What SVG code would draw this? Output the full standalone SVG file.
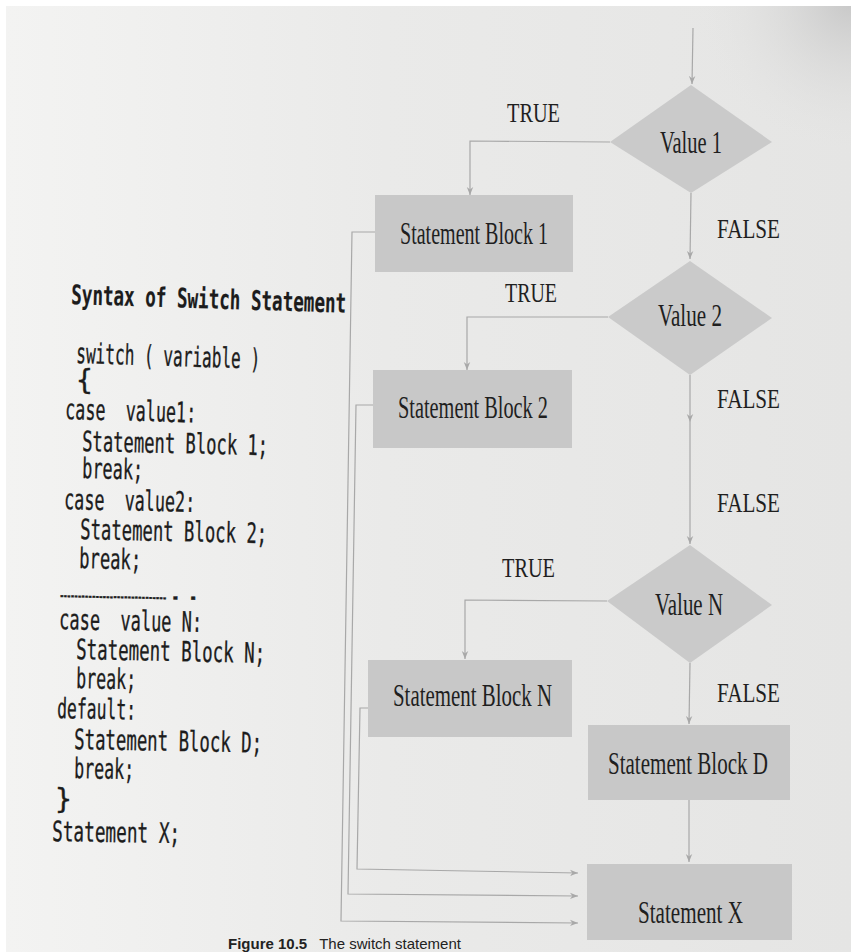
<svg xmlns="http://www.w3.org/2000/svg" width="851" height="952" viewBox="0 0 851 952">
  <defs>
    <linearGradient id="paper" x1="0" y1="0" x2="1" y2="0">
      <stop offset="0" stop-color="#f3f3f2"/>
      <stop offset="0.45" stop-color="#eaeae9"/>
      <stop offset="1" stop-color="#e5e5e4"/>
    </linearGradient>
    <radialGradient id="binding" cx="851" cy="0" r="160" gradientUnits="userSpaceOnUse">
      <stop offset="0" stop-color="#c4c4c4" stop-opacity="0.9"/>
      <stop offset="1" stop-color="#e7e7e6" stop-opacity="0"/>
    </radialGradient>
    <marker id="arrow" viewBox="0 0 10 10" refX="10" refY="5" markerWidth="8" markerHeight="8" markerUnits="userSpaceOnUse" orient="auto">
      <path d="M0,1 L10,5 L0,9 L3,5 z" fill="#a8a8a8"/>
    </marker>
    <style>
      .box { fill: #c8c8c8; }
      .dia { fill: #cacaca; }
      .lbl { font-family: "Liberation Serif", "Times New Roman", serif; fill: #1f1f1f; }
      .node { font-size: 31px; }
      .cond { font-size: 28px; }
      .code { font-family: "DejaVu Sans Mono", "Liberation Mono", monospace; font-size: 28px; fill: #1c1c1c; stroke: #1c1c1c; stroke-width: 0.35; }
      .title { font-weight: bold; font-size: 27px; stroke-width: 0.2; }
      .wire { fill: none; stroke: #a8a8a8; stroke-width: 1.2; }
      .cap { font-family: "Liberation Sans", Arial, sans-serif; font-size: 15px; fill: #222; }
    </style>
  </defs>

  <!-- page -->
  <rect x="0" y="0" width="851" height="952" fill="#ffffff"/>
  <rect x="6" y="6" width="845" height="946" fill="url(#paper)"/>
  <rect x="6" y="6" width="845" height="946" fill="url(#binding)"/>

  <!-- code listing -->
  <g id="syntax-listing">
    <text class="code title" x="71" y="304" textLength="275" lengthAdjust="spacingAndGlyphs" transform="rotate(1.8 71 304)">Syntax of Switch Statement</text>
    <text class="code" x="76" y="363" textLength="184" lengthAdjust="spacingAndGlyphs" transform="rotate(1.8 76 363)">switch ( variable )</text>
    <text class="code" x="76" y="390">{</text>
    <text class="code" x="65" y="419" textLength="131" lengthAdjust="spacingAndGlyphs" transform="rotate(1.5 65 419)">case&#160;&#160;value1:</text>
    <text class="code" x="82" y="451" textLength="186" lengthAdjust="spacingAndGlyphs" transform="rotate(1.3 82 451)">Statement Block 1;</text>
    <text class="code" x="82" y="478" textLength="61" lengthAdjust="spacingAndGlyphs" transform="rotate(1.3 82 478)">break;</text>
    <text class="code" x="64" y="509" textLength="131" lengthAdjust="spacingAndGlyphs" transform="rotate(1.3 64 509)">case&#160;&#160;value2:</text>
    <text class="code" x="80" y="539" textLength="187" lengthAdjust="spacingAndGlyphs" transform="rotate(1.3 80 539)">Statement Block 2;</text>
    <text class="code" x="79" y="568" textLength="62" lengthAdjust="spacingAndGlyphs" transform="rotate(1.3 79 568)">break;</text>
    <text class="code" x="60" y="597" textLength="142" lengthAdjust="spacingAndGlyphs" transform="rotate(1.2 60 597)"><tspan font-size="12px">…………………………</tspan><tspan font-size="20px">..</tspan></text>
    <text class="code" x="59" y="629" textLength="143" lengthAdjust="spacingAndGlyphs" transform="rotate(1.2 59 629)">case&#160;&#160;value N:</text>
    <text class="code" x="76" y="659" textLength="189" lengthAdjust="spacingAndGlyphs" transform="rotate(1.2 76 659)">Statement Block N;</text>
    <text class="code" x="76" y="688" textLength="60" lengthAdjust="spacingAndGlyphs" transform="rotate(1.2 76 688)">break;</text>
    <text class="code" x="57" y="718" textLength="79" lengthAdjust="spacingAndGlyphs" transform="rotate(1.2 57 718)">default:</text>
    <text class="code" x="74" y="749" textLength="188" lengthAdjust="spacingAndGlyphs" transform="rotate(1.1 74 749)">Statement Block D;</text>
    <text class="code" x="74" y="778" textLength="60" lengthAdjust="spacingAndGlyphs" transform="rotate(1.1 74 778)">break;</text>
    <text class="code" x="55" y="809">}</text>
    <text class="code" x="52" y="841" textLength="128" lengthAdjust="spacingAndGlyphs" transform="rotate(1 52 841)">Statement X;</text>
  </g>

  <!-- connectors -->
  <g id="connectors">
    <path class="wire" d="M693,28 L692,84" marker-end="url(#arrow)"/>
    <path class="wire" d="M610,142 L470,141 L470,195" marker-end="url(#arrow)"/>
    <path class="wire" d="M691,193 L690,259" marker-end="url(#arrow)"/>
    <path class="wire" d="M608,317 L467,317 L467,370" marker-end="url(#arrow)"/>
    <path class="wire" d="M690,375 L690,422" marker-end="url(#arrow)"/>
    <path class="wire" d="M690,422 L690,544" marker-end="url(#arrow)"/>
    <path class="wire" d="M607,601 L465,600 L465,659" marker-end="url(#arrow)"/>
    <path class="wire" d="M690,663 L689,724" marker-end="url(#arrow)"/>
    <path class="wire" d="M689,800 L689,862" marker-end="url(#arrow)"/>
    <path class="wire" d="M375,232 L352,232 L341,921 L578,923" marker-end="url(#arrow)"/>
    <path class="wire" d="M373,405 L356,405 L348,894 L578,896" marker-end="url(#arrow)"/>
    <path class="wire" d="M368,708 L360,708 L357,869 L578,873" marker-end="url(#arrow)"/>
  </g>

  <!-- decisions -->
  <g id="value-1">
    <polygon class="dia" points="691,85 772,142 691,193 610,142"/>
    <text class="lbl node" x="660" y="153" textLength="62" lengthAdjust="spacingAndGlyphs">Value 1</text>
  </g>
  <g id="value-2">
    <polygon class="dia" points="690,261 772,318 690,375 608,317"/>
    <text class="lbl node" x="658" y="326" textLength="64" lengthAdjust="spacingAndGlyphs">Value 2</text>
  </g>
  <g id="value-n">
    <polygon class="dia" points="690,545 772,605 690,663 607,601"/>
    <text class="lbl node" x="655" y="615" textLength="68" lengthAdjust="spacingAndGlyphs">Value N</text>
  </g>

  <!-- statement blocks -->
  <g id="block-1">
    <rect class="box" x="375" y="195" width="198" height="77"/>
    <text class="lbl node" x="400" y="244" textLength="148" lengthAdjust="spacingAndGlyphs">Statement Block 1</text>
  </g>
  <g id="block-2">
    <rect class="box" x="373" y="370" width="199" height="78"/>
    <text class="lbl node" x="398" y="418" textLength="150" lengthAdjust="spacingAndGlyphs">Statement Block 2</text>
  </g>
  <g id="block-n">
    <rect class="box" x="368" y="660" width="204" height="77"/>
    <text class="lbl node" x="393" y="706" textLength="159" lengthAdjust="spacingAndGlyphs">Statement Block N</text>
  </g>
  <g id="block-d">
    <rect class="box" x="588" y="725" width="202" height="75"/>
    <text class="lbl node" x="608" y="774" textLength="160" lengthAdjust="spacingAndGlyphs">Statement Block D</text>
  </g>
  <g id="statement-x">
    <rect class="box" x="587" y="864" width="205" height="76"/>
    <text class="lbl node" x="638" y="923" textLength="105" lengthAdjust="spacingAndGlyphs">Statement X</text>
  </g>

  <!-- branch labels -->
  <g id="branch-labels">
    <text class="lbl cond" x="507" y="122" textLength="53" lengthAdjust="spacingAndGlyphs">TRUE</text>
    <text class="lbl cond" x="717" y="238" textLength="63" lengthAdjust="spacingAndGlyphs">FALSE</text>
    <text class="lbl cond" x="505" y="302" textLength="52" lengthAdjust="spacingAndGlyphs">TRUE</text>
    <text class="lbl cond" x="717" y="408" textLength="63" lengthAdjust="spacingAndGlyphs">FALSE</text>
    <text class="lbl cond" x="717" y="512" textLength="63" lengthAdjust="spacingAndGlyphs">FALSE</text>
    <text class="lbl cond" x="502" y="577" textLength="53" lengthAdjust="spacingAndGlyphs">TRUE</text>
    <text class="lbl cond" x="717" y="702" textLength="63" lengthAdjust="spacingAndGlyphs">FALSE</text>
  </g>

  <!-- figure caption at the foot of the page -->
  <text class="cap" x="228" y="949"><tspan font-weight="bold">Figure 10.5</tspan><tspan dx="12">The switch statement</tspan></text>
</svg>
